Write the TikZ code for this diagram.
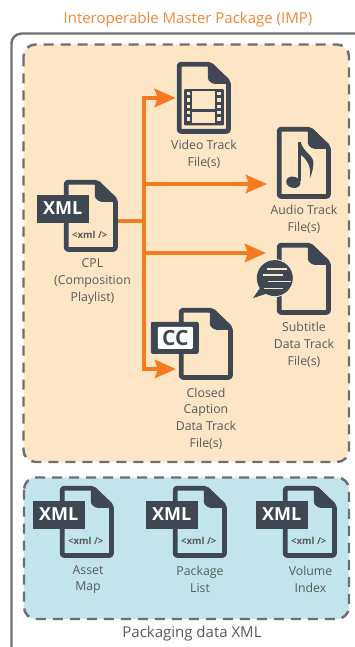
\documentclass[tikz,border=0pt]{standalone}
\usepackage{fontspec}
\setmainfont{Open Sans}
\usetikzlibrary{arrows.meta,calc}
\definecolor{ink}{HTML}{3F4752}
\definecolor{lab}{HTML}{58595B}
\definecolor{frame}{HTML}{6D6E71}
\definecolor{org}{HTML}{F47B20}
\definecolor{ttl}{HTML}{F58634}
\definecolor{warm}{HTML}{FDE6C6}
\definecolor{cool}{HTML}{C2E4EB}
\tikzset{
 x=1pt,y=-1pt,
 panel/.style={draw=frame,line width=2.4pt,dash pattern=on 10pt off 7pt,rounded corners=12pt},
 docnode/.style={inner sep=0pt,minimum width=54pt,minimum height=72pt},
 lbl/.style={text=lab,font=\fontsize{12.3}{16.8}\selectfont,align=center,inner sep=0pt},
 flow/.style={draw=org,line width=4.6pt},
 flowarrow/.style={flow,-{Stealth[length=21pt,width=18pt,inset=3pt]}},
 docfile/.pic={
  \draw[ink,line width=4.8pt,line join=round,rounded corners=2pt]
    (33,2.4) -- (2.4,2.4) -- (2.4,69.6) -- (51.6,69.6) -- (51.6,20) -- cycle;
  \fill[ink,rounded corners=1.5pt] (31,1) -- (35,1) -- (53,19) -- (53,22) -- (36,22) -- (31,18) -- cycle;
 },
 xmltag/.pic={
  \fill[ink] (-27,15) rectangle (25,43);
  \node[text=white,font=\fontsize{18}{20}\bfseries\selectfont,inner sep=0pt] (-xml) at (-1,28.5) {XML};
  \node[text=lab,font=\fontsize{9.6}{10}\bfseries\selectfont,inner sep=0pt] (-code) at (26,55) {<xml />};
 },
}
\begin{document}
\begin{tikzpicture}
\useasboundingbox (0,0) rectangle (355,647);
% frame and panels
\draw[frame,line width=2.4pt,rounded corners=10pt] (11.5,648) -- (11.5,33.5) -- (365,33.5);
\draw[panel,fill=warm] (23.5,44.5) rectangle (349,462);
\draw[panel,fill=cool] (24,477.5) rectangle (349,619);
\node[text=ttl,font=\fontsize{15}{17}\selectfont,inner sep=0pt] (title) at (188,20) {Interoperable Master Package (IMP)};
\node[text=lab,font=\fontsize{15}{17}\selectfont,inner sep=0pt] (pack) at (192,634) {Packaging data XML};

% document nodes
\node[docnode] (video) at (204,98) {};
\node[docnode] (audio) at (304,163) {};
\node[docnode] (sub) at (304,279) {};
\node[docnode] (cc) at (206,344) {};
\node[docnode] (cpl) at (91,216) {};
\node[docnode] (asset) at (87,522) {};
\node[docnode] (plist) at (200,522) {};
\node[docnode] (vol) at (310,522) {};
\foreach \n in {video,audio,sub,cc,cpl,asset,plist,vol}
  \pic at (\n.north west) {docfile};
\pic (t1) at (cpl.north west) {xmltag};
\pic (t2) at (asset.north west) {xmltag};
\pic (t3) at (plist.north west) {xmltag};
\pic (t4) at (vol.north west) {xmltag};

% film
\begin{scope}[shift={(video.north west)}]
 \fill[ink,rounded corners=1pt] (7.3,27.3) rectangle (47,63.7);
 \fill[warm] (15.3,29.7) rectangle (38,47.3);
 \fill[warm] (15.3,50.7) rectangle (38,61.3);
 \foreach \yy in {30,36.3,42.6,48.9,55.2} {
  \fill[warm] (10,\yy+0.2) rectangle (13.3,\yy+3.6);
  \fill[warm] (40,\yy+0.2) rectangle (44,\yy+3.6);
 }
\end{scope}
% note
\begin{scope}[shift={(audio.north west)}]
 \fill[ink] (21,15) rectangle (24,54);
 \fill[ink,rotate around={-15:(16.5,55.5)}] (16.5,55.5) ellipse [x radius=7.2,y radius=5.6];
 \fill[ink] (24,15) .. controls (26,26) and (38,28) .. (36.5,38) .. controls (36,44) and (34.5,48) .. (33,51.5)
   .. controls (34.5,42) and (32,34) .. (24,28) -- cycle;
\end{scope}
% speech bubble
\begin{scope}[shift={(sub.north west)}]
 \fill[warm] (-2,35.3) circle (19);
 \fill[ink] (-2,35.3) circle (18);
 \fill[ink] (-16,44) -- (-23.7,55.3) -- (-8,50) -- cycle;
 \foreach \ya/\xa/\xb in {26.3/-10.3/10.3,32.3/-14.3/5.7,38.7/-9.3/13.7,45.7/-13/6.3}
  \draw[warm,line width=1.4pt] (\xa,\ya) -- (\xb,\ya);
\end{scope}
% CC tag
\begin{scope}[shift={(cc.north west)}]
 \fill[ink,rounded corners=2pt] (-28,14) rectangle (20,46);
 \fill[white,rounded corners=1pt] (-21,19) rectangle (14,41);
 \node[text=ink,font=\fontsize{21}{24}\bfseries\selectfont,inner sep=0pt] (cctext) at (-3.5,30) {CC};
\end{scope}

% connectors
\coordinate (trunk) at (144,221);
\coordinate (audioin) at (267,184);
\coordinate (subin) at (266,253);
\coordinate (ccin) at (176,369);
\draw[flow] (cpl.east |- trunk) -- (trunk);
\draw[flowarrow] (trunk) |- ([xshift=-1pt]video.west);
\draw[flowarrow] (trunk) |- (ccin);
\draw[flowarrow] (trunk |- audioin) -- (audioin);
\draw[flowarrow] (trunk |- subin) -- (subin);

% labels
\node[lbl] (lvideo) at (204,154.5) {Video Track\\File(s)};
\node[lbl] (laudio) at (304,219.5) {Audio Track\\File(s)};
\node[lbl] (lcpl) at (92.5,281.5) {CPL\\(Composition\\Playlist)};
\node[lbl] (lsub) at (304,344.5) {Subtitle\\Data Track\\File(s)};
\node[lbl] (lcc) at (206,418.5) {Closed\\Caption\\Data Track\\File(s)};
\node[lbl] (lasset) at (88,579.5) {Asset\\Map};
\node[lbl] (lplist) at (200,579.5) {Package\\List};
\node[lbl] (lvol) at (310.5,579.5) {Volume\\Index};
\end{tikzpicture}
\end{document}
